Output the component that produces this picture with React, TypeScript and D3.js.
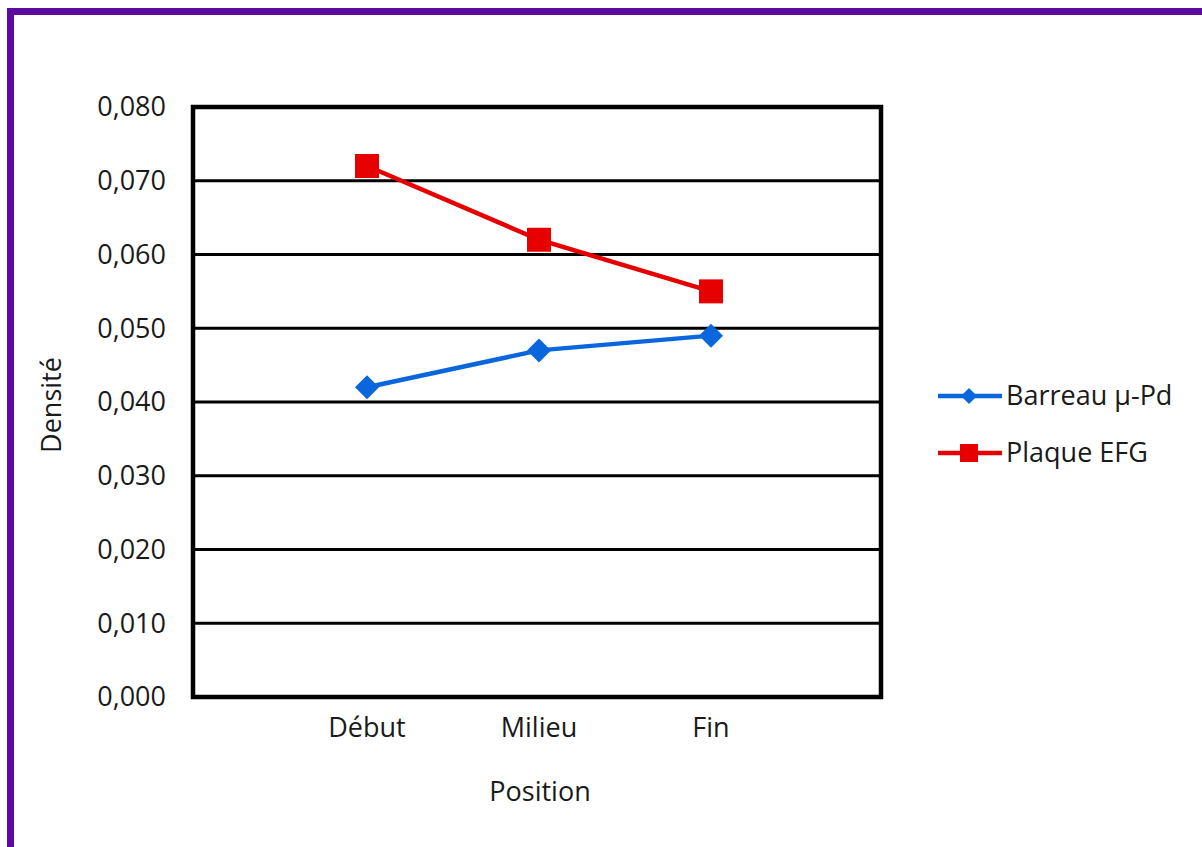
import React from "react";
import * as d3 from "d3";

const categories = ["Début", "Milieu", "Fin"];
const barreau = [0.042, 0.047, 0.049];
const plaque = [0.072, 0.062, 0.055];
const yTicks = [0, 0.01, 0.02, 0.03, 0.04, 0.05, 0.06, 0.07, 0.08];
const seriesNames = ["Barreau µ-Pd", "Plaque EFG"];

const W = 1202;
const H = 847;
const FONT = "'Open Sans', 'Liberation Sans', sans-serif";
const FS = 27;
const TXT = "#1a1a1a";
const BLUE = "#0a66dc";
const RED = "#e60000";

export default function App() {
  const left = 193, right = 881, top = 107, bottom = 697;
  const x = d3.scaleLinear().domain([0, 4]).range([195, 883]);
  const y = d3.scaleLinear().domain([0, 0.08]).range([bottom, top]);
  const fmt = (v: number) => v.toFixed(3).replace(".", ",");
  const line = d3.line<number>().x((_, i) => x(i + 1)).y((d) => y(d));

  const diamond = (cx: number, cy: number, r: number) =>
    `M${cx},${cy - r}L${cx + r},${cy}L${cx},${cy + r}L${cx - r},${cy}Z`;

  return (
    <svg width={W} height={H} style={{ position: "absolute", left: 0, top: 0, background: "#fff" }}>
      <rect x={0} y={0} width={W} height={H} fill="#fff" />
      {/* purple frame */}
      <line x1={10.5} y1={11.5} x2={W} y2={11.5} stroke="#5c0aa0" strokeWidth={7} />
      <line x1={10.5} y1={8} x2={10.5} y2={H} stroke="#5c0aa0" strokeWidth={7} />

      {/* gridlines */}
      {yTicks.map((t) => (
        <line key={t} x1={left} x2={right} y1={y(t)} y2={y(t)} stroke="#000" strokeWidth={3} />
      ))}
      <rect x={left} y={top} width={right - left} height={bottom - top} fill="none" stroke="#000" strokeWidth={4.5} />

      {/* y tick labels */}
      {yTicks.map((t) => (
        <text key={t} x={166} y={y(t)} dy="0.35em" textAnchor="end" fontFamily={FONT} fontSize={FS} fill={TXT}>
          {fmt(t)}
        </text>
      ))}
      {/* x labels */}
      {categories.map((c, i) => (
        <text key={c} x={x(i + 1)} y={728} dy="0.35em" textAnchor="middle" fontFamily={FONT} fontSize={FS} fill={TXT}>
          {c}
        </text>
      ))}
      <text x={540} y={792} dy="0.35em" textAnchor="middle" fontFamily={FONT} fontSize={FS} fill={TXT}>Position</text>
      <text transform="translate(52,405) rotate(-90)" dy="0.35em" textAnchor="middle" fontFamily={FONT} fontSize={FS} fill={TXT}>Densité</text>

      {/* series */}
      <path d={line(plaque) || ""} fill="none" stroke={RED} strokeWidth={4.5} />
      <path d={line(barreau) || ""} fill="none" stroke={BLUE} strokeWidth={4.5} />
      {plaque.map((v, i) => (
        <rect key={i} x={x(i + 1) - 12} y={y(v) - 12} width={24} height={24} fill={RED} />
      ))}
      {barreau.map((v, i) => (
        <path key={i} d={diamond(x(i + 1), y(v), 12)} fill={BLUE} />
      ))}

      {/* legend */}
      <line x1={938} x2={1002} y1={396} y2={396} stroke={BLUE} strokeWidth={4.5} />
      <path d={diamond(969, 396, 8)} fill={BLUE} />
      <text x={1006} y={396} dy="0.35em" fontFamily={FONT} fontSize={FS} fill={TXT}>{seriesNames[0]}</text>
      <line x1={938} x2={1002} y1={453} y2={453} stroke={RED} strokeWidth={4.5} />
      <rect x={960} y={444} width={18} height={18} fill={RED} />
      <text x={1006} y={453} dy="0.35em" fontFamily={FONT} fontSize={FS} fill={TXT}>{seriesNames[1]}</text>
    </svg>
  );
}
